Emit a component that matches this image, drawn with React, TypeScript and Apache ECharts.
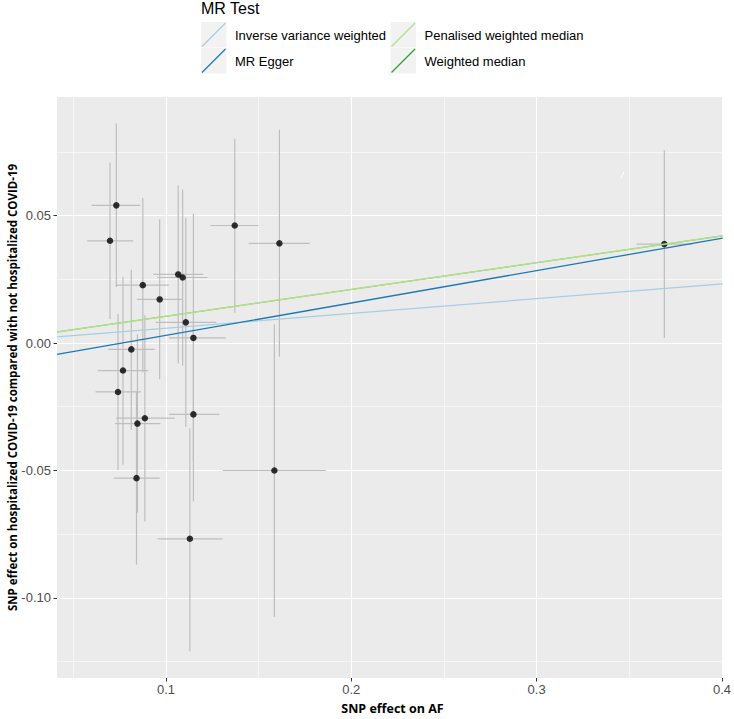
import React, { useEffect, useRef } from 'react';
import * as echarts from 'echarts';

// SNP effects (exposure = AF, outcome = hospitalized vs not hospitalized COVID-19)
const snpX = [0.0732, 0.0698, 0.0875, 0.0966, 0.1066, 0.109, 0.1107, 0.1148, 0.1371, 0.1612, 0.0813, 0.0768, 0.0741, 0.0886, 0.0846, 0.0841, 0.1148, 0.1129, 0.1585, 0.3689];
const snpY = [0.054, 0.0401, 0.0227, 0.0171, 0.0269, 0.0257, 0.0081, 0.002, 0.0461, 0.0391, -0.0025, -0.0108, -0.0192, -0.0295, -0.0316, -0.053, -0.028, -0.0768, -0.05, 0.0388];
const xLow = [0.0598, 0.0575, 0.073, 0.0843, 0.0932, 0.0953, 0.0945, 0.1016, 0.1241, 0.1446, 0.0689, 0.0632, 0.062, 0.073, 0.0725, 0.0718, 0.1016, 0.0955, 0.1305, 0.354];
const xHigh = [0.0861, 0.0823, 0.1016, 0.1087, 0.12, 0.1225, 0.1272, 0.1323, 0.15, 0.1775, 0.0939, 0.0904, 0.0864, 0.1047, 0.097, 0.0966, 0.1288, 0.1304, 0.1862, 0.384];
const yLow = [0.022, 0.0094, -0.0115, -0.0142, -0.008, -0.0089, -0.0329, -0.0467, 0.0119, -0.0054, -0.034, -0.0478, -0.0498, -0.07, -0.0666, -0.087, -0.0622, -0.121, -0.1075, 0.002];
const yHigh = [0.0861, 0.0708, 0.0569, 0.0485, 0.0618, 0.0602, 0.0491, 0.0507, 0.0802, 0.0837, 0.0287, 0.026, 0.0114, 0.011, 0.0034, -0.019, 0.0062, -0.0334, 0.0074, 0.0756];

// MR methods (legend order) and their fitted lines
const methods = ['Inverse variance weighted', 'MR Egger', 'Penalised weighted median', 'Weighted median'];
const methodColors = ['#A6CEE3', '#1F78B4', '#B2DF8A', '#33A02C'];
const intercepts = [0, -0.0097, 0, 0];
const slopes = [0.058, 0.127, 0.105, 0.105];
const lineWidths = [1.3, 1.3, 1.5, 0.7];
const drawOrder = [3, 2, 0, 1];

// axis ticks
const xMajor = [0.1, 0.2, 0.3, 0.4];
const xMinor = [0.05, 0.15, 0.25, 0.35];
const yMajor = [-0.1, -0.05, 0, 0.05];
const yMinor = [-0.125, -0.075, -0.025, 0.025, 0.075];
const X_MIN = 0.0412;
const X_MAX = 0.4004;
const Y_MIN = -0.1314;
const Y_MAX = 0.0965;

const legendTitle = 'MR Test';
const xTitle = 'SNP effect on AF';
const yTitle = 'SNP effect on hospitalized COVID-19 compared with not hospitalized COVID-19';

export default function App() {
  const ref = useRef<HTMLDivElement>(null);
  useEffect(() => {
    if (!ref.current) return;
    const chart = echarts.init(ref.current, null, { renderer: 'svg' });
    const font = 'Liberation Sans, Arial, sans-serif';
    const titleFont = '"Open Sans", "Noto Sans", sans-serif';

    const errData = snpX.map((x, i) => [x, snpY[i], xLow[i], xHigh[i], yLow[i], yHigh[i]]);

    const lineSeries = drawOrder.map((k) => ({
      type: 'line',
      name: methods[k],
      data: [
        [X_MIN, intercepts[k] + slopes[k] * X_MIN],
        [X_MAX, intercepts[k] + slopes[k] * X_MAX],
      ],
      symbol: 'none',
      silent: true,
      z: 5,
      lineStyle: { color: methodColors[k], width: lineWidths[k] },
    }));

    const legendGraphics: any[] = [
      {
        type: 'text',
        x: 201,
        y: 8,
        style: { text: legendTitle, font: `16px ${font}`, fill: '#000', verticalAlign: 'middle' },
      },
    ];
    methods.forEach((m, i) => {
      const col = Math.floor(i / 2);
      const row = i % 2;
      const kx = 201 + col * 189.5;
      const ky = 22 + row * 26;
      legendGraphics.push({
        type: 'rect',
        shape: { x: kx, y: ky, width: 25.5, height: 25.5 },
        style: { fill: '#F2F2F2' },
      });
      legendGraphics.push({
        type: 'line',
        shape: { x1: kx + 1, y1: ky + 24.5, x2: kx + 24.5, y2: ky + 1 },
        style: { stroke: methodColors[i], lineWidth: 1.3 },
      });
      legendGraphics.push({
        type: 'text',
        x: kx + 34,
        y: ky + 13,
        style: { text: m, font: `13px ${font}`, fill: '#000', verticalAlign: 'middle' },
      });
    });
    legendGraphics.push({
      type: 'text',
      x: 392.5,
      y: 708,
      style: { text: xTitle, font: `bold 12.5px ${titleFont}`, fill: '#000', align: 'center', verticalAlign: 'middle' },
    });
    legendGraphics.push({
      type: 'text',
      x: 12,
      y: 387.5,
      rotation: Math.PI / 2,
      style: { text: yTitle, font: `bold 11.5px ${titleFont}`, fill: '#000', align: 'center', verticalAlign: 'middle' },
    });
    // small white speck present in the original panel
    legendGraphics.push({
      type: 'line',
      shape: { x1: 621, y1: 178, x2: 624, y2: 172 },
      style: { stroke: '#FFFFFF', lineWidth: 1 },
      z: 10,
    });

    const axisCommon = {
      type: 'value',
      axisLine: { show: false, onZero: false },
    };

    chart.setOption({
      animation: false,
      grid: { left: 57, right: 6, top: 97, bottom: 41, show: true, backgroundColor: '#EBEBEB', borderWidth: 0 },
      xAxis: [
        {
          ...axisCommon,
          min: X_MIN,
          max: X_MAX,
          position: 'bottom',
          axisTick: { show: true, customValues: xMajor, length: 3.5, lineStyle: { color: '#333', width: 1 } },
          axisLabel: { customValues: xMajor, color: '#4D4D4D', fontSize: 13, fontFamily: font, margin: 5, formatter: (v: number) => v.toFixed(1) },
          splitLine: { show: true, lineStyle: { color: '#FFFFFF', width: 1.1 } },
        },
        {
          ...axisCommon,
          min: X_MIN,
          max: X_MAX,
          position: 'bottom',
          axisTick: { show: false, customValues: xMinor },
          axisLabel: { show: false, customValues: xMinor },
          splitLine: { show: true, lineStyle: { color: '#FFFFFF', width: 0.55 } },
        },
      ],
      yAxis: [
        {
          ...axisCommon,
          min: Y_MIN,
          max: Y_MAX,
          position: 'left',
          axisTick: { show: true, customValues: yMajor, length: 3.5, lineStyle: { color: '#333', width: 1 } },
          axisLabel: { customValues: yMajor, color: '#4D4D4D', fontSize: 13, fontFamily: font, margin: 6, formatter: (v: number) => v.toFixed(2) },
          splitLine: { show: true, lineStyle: { color: '#FFFFFF', width: 1.1 } },
        },
        {
          ...axisCommon,
          min: Y_MIN,
          max: Y_MAX,
          position: 'left',
          axisTick: { show: false, customValues: yMinor },
          axisLabel: { show: false, customValues: yMinor },
          splitLine: { show: true, lineStyle: { color: '#FFFFFF', width: 0.55 } },
        },
      ],
      series: [
        {
          type: 'custom',
          name: 'error bars',
          data: errData,
          encode: { x: [0, 2, 3], y: [1, 4, 5] },
          clip: true,
          silent: true,
          z: 2,
          renderItem: (_params: any, api: any) => {
            const x = api.value(0);
            const y = api.value(1);
            const a = api.coord([x, api.value(4)]);
            const b = api.coord([x, api.value(5)]);
            const c = api.coord([api.value(2), y]);
            const d = api.coord([api.value(3), y]);
            const st = { stroke: '#BEBEBE', lineWidth: 1.2 };
            return {
              type: 'group',
              children: [
                { type: 'line', shape: { x1: a[0], y1: a[1], x2: b[0], y2: b[1] }, style: st },
                { type: 'line', shape: { x1: c[0], y1: c[1], x2: d[0], y2: d[1] }, style: st },
              ],
            };
          },
        },
        {
          type: 'scatter',
          name: 'SNPs',
          data: snpX.map((x, i) => [x, snpY[i]]),
          symbolSize: 6.5,
          z: 3,
          itemStyle: { color: '#000000' },
        },
        ...lineSeries,
      ],
      graphic: legendGraphics,
    });
    return () => chart.dispose();
  }, []);
  return <div ref={ref} style={{ position: 'fixed', left: 0, top: 0, width: 734, height: 719, background: '#fff' }} />;
}
